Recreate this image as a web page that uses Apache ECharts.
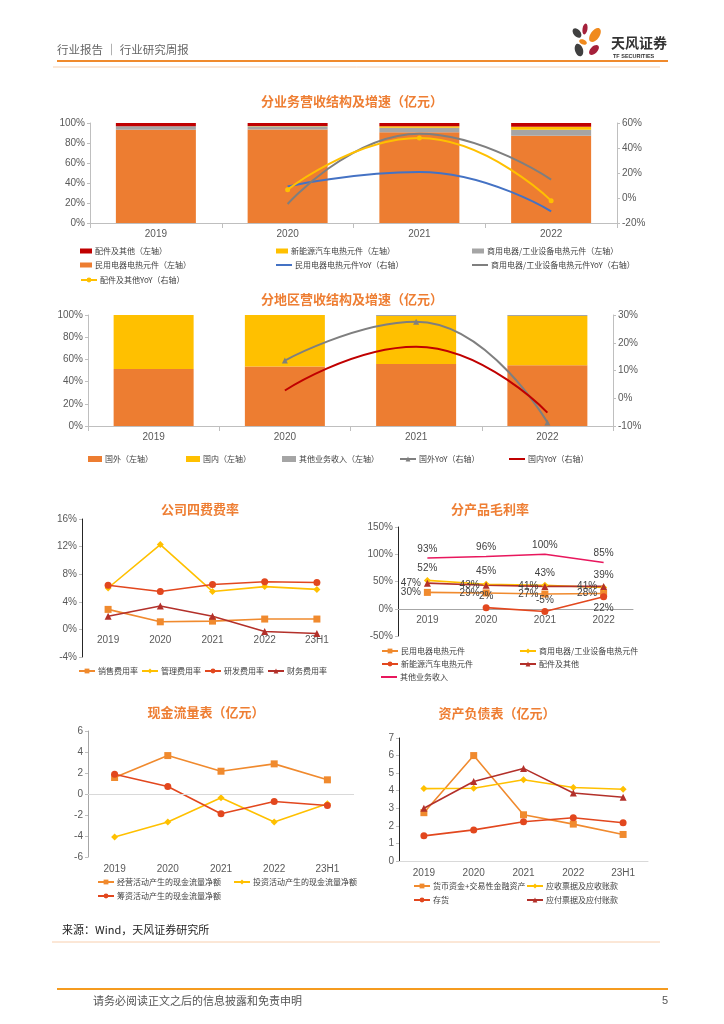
<!DOCTYPE html>
<html><head><meta charset="utf-8">
<script src="https://cdn.jsdelivr.net/npm/echarts@6.0.0/dist/echarts.min.js"></script>
<style>html,body{margin:0;padding:0;background:#fff}#c{width:724px;height:1024px}</style>
</head><body><div id="c"></div>
<script>
// ---------- data ----------
const years4 = ['2019', '2020', '2021', '2022'];
const years5 = ['2019', '2020', '2021', '2022', '23H1'];

// Chart 1: revenue structure by business (% share) and YoY (%)
const c1Civil = [93.3, 93.5, 90.7, 87.3];
const c1Comm = [3.4, 3.2, 4.6, 6.0];
const c1Nev = [0, 0.2, 1.4, 3.0];
const c1Parts = [3.3, 3.1, 3.3, 3.7];
const c1CivilYoY = [null, 9.3, 20.8, -10.7];
const c1CommYoY = [null, -4.8, 51.5, 14.7];
const c1PartsYoY = [null, 6.7, 48.0, -2.1];

// Chart 2: revenue structure by region (% share) and YoY (%)
const c2Abroad = [51.4, 53.5, 55.9, 54.7];
const c2Domestic = [48.6, 46.5, 43.1, 44.3];
const c2Other = [0, 0, 1.0, 1.0];
const c2AbroadYoY = [null, 13.6, 27.6, -8.7];
const c2DomesticYoY = [null, 2.8, 18.6, -5.2];

// Chart 3: expense ratios (%)
const c3Sales = [2.9, 1.1, 1.2, 1.5, 1.5];
const c3Admin = [6.0, 12.3, 5.5, 6.2, 5.8];
const c3RD = [6.4, 5.5, 6.5, 6.9, 6.8];
const c3Fin = [1.9, 3.4, 1.9, -0.3, -0.6];

// Chart 4: gross margin by product (%)
const c4Civil = [30, 29, 27, 28];
const c4Comm = [52, 45, 43, 39];
const c4Nev = [null, 2, -5, 22];
const c4Parts = [47, 43, 41, 41];
const c4Other = [93, 96, 100, 85];

// Chart 5: cash flow (亿元)
const c5Op = [1.57, 3.66, 2.17, 2.87, 1.35];
const c5Inv = [-4.09, -2.67, -0.36, -2.67, -0.93];
const c5Fin = [1.89, 0.72, -1.88, -0.71, -1.09];

// Chart 6: balance sheet (亿元)
const c6Cash = [2.75, 6.0, 2.63, 2.1, 1.51];
const c6Recv = [4.12, 4.14, 4.62, 4.18, 4.08];
const c6Inv = [1.43, 1.77, 2.23, 2.46, 2.18];
const c6Pay = [3.0, 4.52, 5.27, 3.87, 3.63];

// ---------- styles ----------
const NUMF = '"Liberation Sans", "Noto Sans CJK SC", sans-serif';
const CJK = '"Noto Sans CJK SC", sans-serif';
const ORANGE = '#ED7D31', YELLOW = '#FFC000', GRAY = '#A5A5A5', RED = '#C00000', BLUE = '#4472C4', DGRAY = '#7F7F7F';
const L1 = '#F08A2E', L2 = '#FFC000', L3 = '#E2471E', L4 = '#B3302A', PINK = '#E8175D';
const TITLE = '#EE7E33';

const lbl = (extra) => Object.assign({ color: '#595959', fontSize: 10, fontFamily: NUMF }, extra || {});

function catAxis(grid, data, extra) {
  return Object.assign({
    type: 'category', gridIndex: grid, data: data,
    axisLine: { show: true, onZero: false, lineStyle: { color: '#BFBFBF' } },
    axisTick: { show: false },
    axisLabel: lbl({ margin: 6 }),
    splitLine: { show: false }
  }, extra || {});
}
function valAxis(grid, min, max, interval, fmt, extra) {
  return Object.assign({
    type: 'value', gridIndex: grid, min: min, max: max, interval: interval,
    axisLine: { show: true, lineStyle: { color: '#BFBFBF' } },
    axisTick: { show: true, length: 3, lineStyle: { color: '#BFBFBF' } },
    axisLabel: lbl({ formatter: fmt, margin: 5 }),
    splitLine: { show: false }
  }, extra || {});
}
function leg(name, left, top, extra) {
  return Object.assign({
    data: [name], left: left, top: top, orient: 'horizontal', selectedMode: false,
    itemWidth: 16, itemHeight: 6, padding: 0, itemGap: 0,
    textStyle: { fontSize: 8, color: '#404040', fontFamily: CJK, padding: [0, 0, 0, -2] }
  }, extra || {});
}
const BARICON = { icon: 'rect', itemWidth: 12, itemHeight: 5 };
const LINEICON = { icon: 'rect', itemWidth: 16, itemHeight: 2 };

function barS(name, data, color, xi, yi, stack) {
  return { type: 'bar', name: name, data: data, xAxisIndex: xi, yAxisIndex: yi, stack: stack,
    barWidth: 80, itemStyle: { color: color }, emphasis: { disabled: true } };
}
function lineS(name, data, color, xi, yi, symbol, extra) {
  return Object.assign({
    type: 'line', name: name, data: data, xAxisIndex: xi, yAxisIndex: yi,
    symbol: symbol, symbolSize: 7, showSymbol: symbol !== 'none',
    lineStyle: { color: color, width: 1.6 }, itemStyle: { color: color },
    emphasis: { disabled: true }
  }, extra || {});
}
const dl = (pos, dist) => ({ show: true, position: pos, distance: dist, formatter: '{c}%', color: '#404040', fontSize: 10, fontFamily: NUMF });

// ---------- option ----------
const option = {
  animation: false,
  backgroundColor: '#fff',
  grid: [
    { left: 90, top: 123, width: 527, height: 100 },
    { left: 88, top: 315, width: 525, height: 111 },
    { left: 82, top: 519, width: 261, height: 138 },
    { left: 398, top: 527, width: 235, height: 109 },
    { left: 88, top: 731, width: 266, height: 126 },
    { left: 399, top: 738, width: 249, height: 123 }
  ],
  xAxis: [
    catAxis(0, years4, { axisTick: { show: true, lineStyle: { color: '#BFBFBF' } } }),
    catAxis(1, years4, { axisTick: { show: true, lineStyle: { color: '#BFBFBF' } } }),
    // zero line sits 27.6px above the bottom (16..-4 over 138px)
    catAxis(2, years5, { offset: -27.6, axisLine: { show: false, onZero: false } }),
    // zero line sits 27.25px above the bottom (150..-50 over 109px)
    catAxis(3, years4, { offset: -27.25, axisLine: { show: true, onZero: false, lineStyle: { color: '#A6A6A6' } } }),
    catAxis(4, years5, { axisLine: { show: false, onZero: false }, axisLabel: lbl({ margin: 7 }) }),
    catAxis(5, years5, { axisLine: { show: true, onZero: false, lineStyle: { color: '#D9D9D9' } }, axisLabel: lbl({ margin: 7 }) })
  ],
  yAxis: [
    valAxis(0, 0, 100, 20, '{value}%'),
    valAxis(0, -20, 60, 20, '{value}%', { position: 'right' }),
    valAxis(1, 0, 100, 20, '{value}%'),
    valAxis(1, -10, 30, 10, '{value}%', { position: 'right' }),
    valAxis(2, -4, 16, 4, '{value}%', { axisLine: { show: true, lineStyle: { color: '#262626' } } }),
    valAxis(3, -50, 150, 50, '{value}%', { axisLine: { show: true, lineStyle: { color: '#262626' } } }),
    valAxis(4, -6, 6, 2, '{value}', { axisLine: { show: true, lineStyle: { color: '#A6A6A6' } } }),
    valAxis(5, 0, 7, 1, '{value}', { axisLine: { show: true, lineStyle: { color: '#262626' } } })
  ],
  legend: [
    // chart 1
    leg('配件及其他（左轴）', 80, 247, BARICON),
    leg('新能源汽车电热元件（左轴）', 276, 247, BARICON),
    leg('商用电器/工业设备电热元件（左轴）', 472, 247, BARICON),
    leg('民用电器电热元件（左轴）', 80, 261, BARICON),
    leg('民用电器电热元件YoY（右轴）', 276, 261, LINEICON),
    leg('商用电器/工业设备电热元件YoY（右轴）', 472, 261, LINEICON),
    leg('配件及其他YoY（右轴）', 80, 276),
    // chart 2
    leg('国外（左轴）', 88, 455, { icon: 'rect', itemWidth: 14, itemHeight: 6 }),
    leg('国内（左轴）', 186, 455, { icon: 'rect', itemWidth: 14, itemHeight: 6 }),
    leg('其他业务收入（左轴）', 282, 455, { icon: 'rect', itemWidth: 14, itemHeight: 6 }),
    leg('国外YoY（右轴）', 399, 455),
    leg('国内YoY（右轴）', 509, 455, LINEICON),
    // chart 3
    leg('销售费用率', 78, 667),
    leg('管理费用率', 141, 667),
    leg('研发费用率', 204, 667),
    leg('财务费用率', 267, 667),
    // chart 4
    leg('民用电器电热元件', 381, 647),
    leg('商用电器/工业设备电热元件', 519, 647),
    leg('新能源汽车电热元件', 381, 660),
    leg('配件及其他', 519, 660),
    leg('其他业务收入', 381, 673, LINEICON),
    // chart 5
    leg('经营活动产生的现金流量净额', 97, 878),
    leg('投资活动产生的现金流量净额', 233, 878),
    leg('筹资活动产生的现金流量净额', 97, 892),
    // chart 6
    leg('货币资金+交易性金融资产', 413, 882),
    leg('应收票据及应收账款', 526, 882),
    leg('存货', 413, 896),
    leg('应付票据及应付账款', 526, 896)
  ],
  series: [
    // chart 1
    barS('民用电器电热元件（左轴）', c1Civil, ORANGE, 0, 0, 'c1'),
    barS('商用电器/工业设备电热元件（左轴）', c1Comm, GRAY, 0, 0, 'c1'),
    barS('新能源汽车电热元件（左轴）', c1Nev, YELLOW, 0, 0, 'c1'),
    barS('配件及其他（左轴）', c1Parts, RED, 0, 0, 'c1'),
    lineS('民用电器电热元件YoY（右轴）', c1CivilYoY, BLUE, 0, 1, 'none', { smooth: true, lineStyle: { color: BLUE, width: 2 } }),
    lineS('商用电器/工业设备电热元件YoY（右轴）', c1CommYoY, DGRAY, 0, 1, 'none', { smooth: true, lineStyle: { color: DGRAY, width: 2 } }),
    lineS('配件及其他YoY（右轴）', c1PartsYoY, YELLOW, 0, 1, 'circle', { smooth: true, symbolSize: 5, lineStyle: { color: YELLOW, width: 2 } }),
    // chart 2
    barS('国外（左轴）', c2Abroad, ORANGE, 1, 2, 'c2'),
    barS('国内（左轴）', c2Domestic, YELLOW, 1, 2, 'c2'),
    barS('其他业务收入（左轴）', c2Other, GRAY, 1, 2, 'c2'),
    lineS('国外YoY（右轴）', c2AbroadYoY, DGRAY, 1, 3, 'triangle', { smooth: true, symbolSize: 6, lineStyle: { color: DGRAY, width: 2 } }),
    lineS('国内YoY（右轴）', c2DomesticYoY, RED, 1, 3, 'none', { smooth: true, lineStyle: { color: RED, width: 2 } }),
    // chart 3
    lineS('销售费用率', c3Sales, L1, 2, 4, 'rect'),
    lineS('管理费用率', c3Admin, L2, 2, 4, 'diamond'),
    lineS('研发费用率', c3RD, L3, 2, 4, 'circle'),
    lineS('财务费用率', c3Fin, L4, 2, 4, 'triangle'),
    // chart 4
    lineS('民用电器电热元件', c4Civil, L1, 3, 5, 'rect', { label: dl('left', 3) }),
    lineS('商用电器/工业设备电热元件', c4Comm, L2, 3, 5, 'diamond', { label: dl('top', 4) }),
    lineS('新能源汽车电热元件', c4Nev.map((v, i) => v == null ? null : { value: v, label: { position: ['top', 'top', 'bottom'][i - 1] } }), L3, 3, 5, 'circle', { label: dl('bottom', 3) }),
    lineS('配件及其他', c4Parts, L4, 3, 5, 'triangle', { label: dl('left', 3) }),
    lineS('其他业务收入', c4Other, PINK, 3, 5, 'circle', { label: dl('top', 4), showSymbol: true, symbolSize: 0.1 }),
    // chart 5
    lineS('经营活动产生的现金流量净额', c5Op, L1, 4, 6, 'rect', {
      markLine: { silent: true, symbol: 'none', label: { show: false }, lineStyle: { color: '#D9D9D9', type: 'solid', width: 1 }, data: [{ yAxis: 0 }] }
    }),
    lineS('投资活动产生的现金流量净额', c5Inv, L2, 4, 6, 'diamond'),
    lineS('筹资活动产生的现金流量净额', c5Fin, L3, 4, 6, 'circle'),
    // chart 6
    lineS('货币资金+交易性金融资产', c6Cash, L1, 5, 7, 'rect'),
    lineS('应收票据及应收账款', c6Recv, L2, 5, 7, 'diamond'),
    lineS('存货', c6Inv, L3, 5, 7, 'circle'),
    lineS('应付票据及应付账款', c6Pay, L4, 5, 7, 'triangle')
  ],
  graphic: [
    // header
    { type: 'text', x: 57, y: 50, style: { text: '行业报告 ｜ 行业研究周报', fill: '#666', font: '11.5px ' + CJK, textVerticalAlign: 'middle' } },
    { type: 'line', shape: { x1: 57, y1: 61, x2: 668, y2: 61 }, style: { stroke: '#F08A2C', lineWidth: 2 } },
    { type: 'line', shape: { x1: 53, y1: 67, x2: 660, y2: 67 }, style: { stroke: '#F8CFAE', lineWidth: 1 } },
    // logo
    { type: 'ellipse', x: 577, y: 33, rotation: 0.7, shape: { cx: 0, cy: 0, rx: 3.5, ry: 5.5 }, style: { fill: '#404040' } },
    { type: 'ellipse', x: 585, y: 29, rotation: -0.15, shape: { cx: 0, cy: 0, rx: 2.5, ry: 5.5 }, style: { fill: '#A5203A' } },
    { type: 'ellipse', x: 595, y: 35, rotation: -0.6, shape: { cx: 0, cy: 0, rx: 4.5, ry: 8 }, style: { fill: '#F08A1E' } },
    { type: 'ellipse', x: 583, y: 42, rotation: 1.2, shape: { cx: 0, cy: 0, rx: 2.5, ry: 4 }, style: { fill: '#F08A1E' } },
    { type: 'ellipse', x: 579, y: 50, rotation: 0.3, shape: { cx: 0, cy: 0, rx: 4, ry: 6.5 }, style: { fill: '#404040' } },
    { type: 'ellipse', x: 594, y: 50, rotation: -0.8, shape: { cx: 0, cy: 0, rx: 3.5, ry: 6 }, style: { fill: '#A5203A' } },
    { type: 'text', x: 611, y: 43, style: { text: '天风证券', fill: '#333', font: 'bold 14px ' + CJK, textVerticalAlign: 'middle' } },
    { type: 'text', x: 613, y: 56, style: { text: 'TF SECURITIES', fill: '#333', font: 'bold 5.5px ' + NUMF, textVerticalAlign: 'middle' } },
    // chart titles
    { type: 'text', x: 352, y: 101, style: { text: '分业务营收结构及增速（亿元）', fill: TITLE, font: 'bold 13px ' + CJK, textAlign: 'center', textVerticalAlign: 'middle' } },
    { type: 'text', x: 352, y: 299, style: { text: '分地区营收结构及增速（亿元）', fill: TITLE, font: 'bold 13px ' + CJK, textAlign: 'center', textVerticalAlign: 'middle' } },
    { type: 'text', x: 200, y: 509, style: { text: '公司四费费率', fill: TITLE, font: 'bold 13px ' + CJK, textAlign: 'center', textVerticalAlign: 'middle' } },
    { type: 'text', x: 490, y: 509, style: { text: '分产品毛利率', fill: TITLE, font: 'bold 13px ' + CJK, textAlign: 'center', textVerticalAlign: 'middle' } },
    { type: 'text', x: 206, y: 712, style: { text: '现金流量表（亿元）', fill: TITLE, font: 'bold 13px ' + CJK, textAlign: 'center', textVerticalAlign: 'middle' } },
    { type: 'text', x: 497, y: 713, style: { text: '资产负债表（亿元）', fill: TITLE, font: 'bold 13px ' + CJK, textAlign: 'center', textVerticalAlign: 'middle' } },
    // footer
    { type: 'text', x: 62, y: 930, style: { text: '来源：Wind，天风证券研究所', fill: '#222', font: '11px ' + CJK, textVerticalAlign: 'middle' } },
    { type: 'line', shape: { x1: 52, y1: 942, x2: 660, y2: 942 }, style: { stroke: '#F8CFAE', lineWidth: 1 } },
    { type: 'line', shape: { x1: 57, y1: 989, x2: 668, y2: 989 }, style: { stroke: '#F59B1F', lineWidth: 2 } },
    { type: 'text', x: 93, y: 1001, style: { text: '请务必阅读正文之后的信息披露和免责申明', fill: '#555', font: '11px ' + CJK, textVerticalAlign: 'middle' } },
    { type: 'text', x: 668, y: 1001, style: { text: '5', fill: '#555', font: '11px ' + NUMF, textAlign: 'right', textVerticalAlign: 'middle' } }
  ]
};

const chart = echarts.init(document.getElementById('c'), null, { renderer: 'canvas', width: 724, height: 1024 });
chart.setOption(option);
</script>
</body></html>
